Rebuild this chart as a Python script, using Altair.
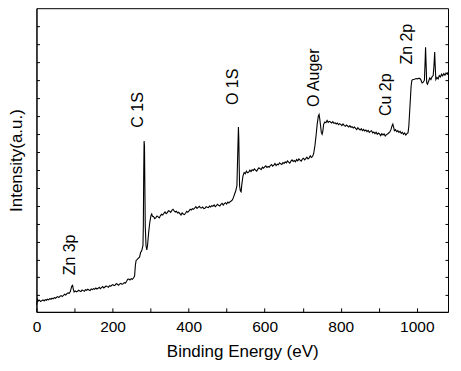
import altair as alt
import pandas as pd

# XPS survey spectrum, (binding energy eV, intensity a.u.)
seg_zn3p = [(0,22),(2,30),(3,38),(5,33),(8,35),(11,31),(14,34),(17,36),(20,33),(23,37),(26,35),(29,38),
            (32,36),(35,40),(38,38),(41,41),(44,39),(47,43),(50,41),(53,44),(56,46),(59,43),(62,47),(65,49),
            (68,46),(71,50),(74,53),(77,51),(80,55),(83,57),(86,56),(89,61),(91,70),(93,78),(95,80),(97,68),(99,60)]
seg_c1s = [(102,63),(105,60),(108,62),(111,65),(114,63),(117,61),(120,66),(123,64),(126,62),(129,67),(132,65),
           (135,68),(138,66),(141,64),(144,69),(147,67),(150,70),(153,68),(156,72),(159,69),(162,71),(165,74),
           (168,70),(171,73),(174,76),(177,72),(180,75),(183,78),(186,76),(189,74),(192,79),(195,77),(198,80),
           (201,82),(204,79),(207,81),(210,85),(213,83),(216,80),(219,84),(222,86),(225,83),(228,85),(231,88),
           (234,87),(237,92),(240,98),(243,99),(246,96),(249,100),(252,98),(255,102),(258,108),(260,140),
           (262,155),(265,158),(268,162),(271,165),(274,180),(276,182),(278,190),(280,200),(281,260),(282,420),
           (283,515),(284,500),(285,380),(286,260),(288,200),(290,187),(292,200),(295,240),(298,270),(301,290),
           (303,295),(305,288)]
seg_o1s = [(308,287),(311,281),(314,284),(317,289),(320,286),(323,283),(326,290),(329,294),(332,292),(335,297),
           (338,301),(341,296),(344,299),(347,305),(350,303),(353,300),(356,306),(359,309),(362,304),(365,301),
           (368,303),(371,298),(374,300),(377,296),(380,292),(383,298),(386,295),(389,293),(392,297),(395,303),
           (398,300),(401,304),(404,309),(407,307),(410,311),(413,309),(416,313),(419,317),(422,312),(425,315),
           (428,318),(431,314),(434,313),(437,316),(440,311),(443,312),(446,317),(449,315),(452,314),(455,319),
           (458,316),(461,320),(464,318),(467,322),(470,317),(473,320),(476,324),(479,321),(482,319),(485,324),
           (488,327),(491,322),(494,326),(497,329),(500,325),(503,331),(506,328),(509,332),(512,334),(515,337),
           (518,345),(521,355),(524,365),(527,380),(529,470),(531,557),(532,520),(533,440),(534,380),(536,365),
           (538,362),(540,385),(543,410),(546,420),(549,416)]
seg_auger = [(552,424),(555,419),(558,421),(561,427),(564,423),(567,428),(570,426),(573,431),(576,427),(579,424),
             (582,430),(585,434),(588,431),(591,429),(594,436),(597,433),(600,437),(603,440),(606,435),(609,438),
             (612,436),(615,441),(618,444),(621,439),(624,442),(627,447),(630,441),(633,445),(636,443),(639,449),
             (642,446),(645,444),(648,450),(651,447),(654,452),(657,449),(660,455),(663,451),(666,448),(669,454),
             (672,458),(675,453),(678,456),(681,452),(684,459),(687,455),(690,461),(693,457),(696,454),(699,460),
             (702,463),(705,458),(708,462),(711,466),(714,461),(717,464),(720,470),(723,465),(726,468),(729,478),
             (732,500),(735,530),(738,565),(741,590),(743,595),(745,580),(747,560),(749,540),(751,535),(753,545),
             (755,565),(758,572),(761,570)]
seg_cu2p = [(764,577),(767,571),(770,574),(773,572),(776,569),(779,573),(782,568),(785,570),(788,566),(791,569),
            (794,564),(797,567),(800,565),(803,561),(806,566),(809,562),(812,559),(815,563),(818,560),(821,557),
            (824,561),(827,556),(830,558),(833,554),(836,557),(839,553),(842,549),(845,555),(848,551),(851,548),
            (854,552),(857,546),(860,550),(863,545),(866,548),(869,543),(872,547),(875,541),(878,544),(881,546),
            (884,539),(887,542),(890,537),(893,541),(896,535),(899,539),(902,536),(905,531),(908,537),(911,533),
            (914,536),(917,530),(920,534),(923,536),(926,539),(929,542),(932,549),(935,561),(937,566),(939,557),
            (941,546),(944,549),(947,543),(950,546),(953,541),(956,544),(959,538),(962,541),(965,535),(968,539),
            (971,533),(974,537),(977,540)]
seg_zn2p = [(979,560),(981,600),(983,640),(985,680),(987,698),(990,700),(994,701),(998,703),(1002,702),(1006,704),
            (1010,701),(1014,690),(1017,692),(1020,698),(1022,760),(1023,797),(1024,760),(1026,690),(1028,686),
            (1031,695),(1034,705),(1037,700),(1040,708),(1043,712),(1045,740),(1047,783),(1048,750),(1050,700),
            (1053,706),(1056,702),(1059,712),(1062,708),(1065,716),(1068,711),(1071,718),(1074,713),(1077,720),
            (1080,716),(1082,722)]

peak_names = ["Zn 3p", "C 1S", "O 1S", "O Auger", "Cu 2p", "Zn 2p"]
peak_energy = [87.6, 267, 516.6, 730, 919, 973.7]
peak_label_base = [110, 555, 623, 617, 590, 745]

x_tick_values = [0, 100, 200, 300, 400, 500, 600, 700, 800, 900, 1000]
y_tick_values = [50, 104, 158, 212, 266, 320, 374, 428, 482, 536, 590, 644, 698, 752, 806, 860]

points = seg_zn3p + seg_c1s + seg_o1s + seg_auger + seg_cu2p + seg_zn2p
df = pd.DataFrame(points, columns=["energy", "intensity"])
labels_df = pd.DataFrame({"name": peak_names, "energy": peak_energy, "intensity": peak_label_base})

W, H = 412, 304
FONT = "Liberation Sans"
xs = alt.Scale(domain=[0, 1082], nice=False, zero=False)
ys = alt.Scale(domain=[0, 915], nice=False, zero=False)

line = alt.Chart(df).mark_line(color="black", strokeWidth=1.1).encode(
    x=alt.X("energy:Q", scale=xs, axis=alt.Axis(
        orient="bottom", values=x_tick_values, format="d",
        labelExpr="datum.value % 200 == 0 ? datum.label : ''",
        ticks=False, tickSize=0, labelPadding=8, labelFontSize=15.5, labelFont=FONT,
        labelFlush=False, labelColor="black", domainColor="black", grid=False,
        title="Binding Energy (eV)", titleFontSize=17, titleFont=FONT, titleFontWeight="normal",
        titleColor="black", titlePadding=8)),
    y=alt.Y("intensity:Q", scale=ys, axis=alt.Axis(
        orient="left", labels=False, ticks=False, tickSize=0, domainColor="black", grid=False,
        title="Intensity(a.u.)", titleFontSize=17, titleFont=FONT, titleFontWeight="normal",
        titleColor="black", titlePadding=11)),
)

ticks_a = alt.Chart(df).mark_line(opacity=0).encode(
    x=alt.X("energy:Q", scale=xs, axis=alt.Axis(
        orient="top", offset=-H, values=x_tick_values, labels=False, domain=False,
        ticks=True, tickSize=4, tickColor="black", grid=False, title=None)),
    y=alt.Y("intensity:Q", scale=ys, axis=alt.Axis(
        orient="right", offset=-W, values=y_tick_values, labels=False, domain=False,
        ticks=True, tickSize=3, tickColor="black", grid=False, title=None)),
)

ticks_b = alt.Chart(df).mark_line(opacity=0).encode(
    x=alt.X("energy:Q", scale=xs, axis=None),
    y=alt.Y("intensity:Q", scale=ys, axis=alt.Axis(
        orient="left", offset=-W, values=y_tick_values, labels=False, domain=False,
        ticks=True, tickSize=3, tickColor="black", grid=False, title=None)),
)

text = alt.Chart(labels_df).mark_text(
    angle=270, align="left", baseline="middle", fontSize=16, font=FONT, color="black"
).encode(
    x=alt.X("energy:Q", scale=xs, axis=None),
    y=alt.Y("intensity:Q", scale=ys, axis=None),
    text="name:N",
)

chart = alt.layer(line, ticks_a, ticks_b, text).resolve_axis(
    x="independent", y="independent"
).properties(
    width=W, height=H,
    autosize=alt.AutoSizeParams(type="none"),
    padding={"left": 28.5, "top": 0, "right": 5, "bottom": 55},
    background="white",
).configure_view(stroke="black", strokeWidth=1)

chart.save("out.html", embed_options={"renderer": "svg", "actions": False})
